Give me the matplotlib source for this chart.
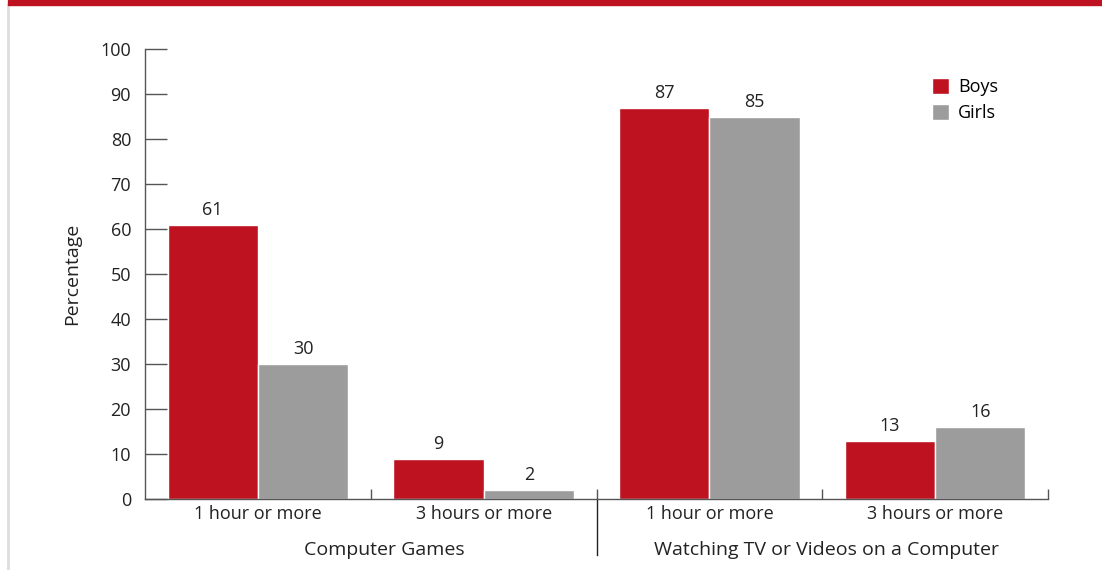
import matplotlib.pyplot as plt
from matplotlib.patches import Rectangle
from matplotlib.lines import Line2D
import numpy as np

plt.rcParams['font.family'] = ['Open Sans', 'DejaVu Sans']

categories = ['1 hour or more', '3 hours or more', '1 hour or more', '3 hours or more']
groups = ['Computer Games', 'Watching TV or Videos on a Computer']
boys = [61, 9, 87, 13]
girls = [30, 2, 85, 16]

red = '#BE1220'
grey = '#9C9C9C'
axis_col = '#555555'

fig = plt.figure(figsize=(11.02, 5.70), dpi=100)
ax = fig.add_axes([145 / 1102, 1 - 499 / 570, (1048 - 145) / 1102, 450 / 570])

x = np.arange(len(categories))
w = 0.4
b1 = ax.bar(x - w / 2, boys, w, color=red, edgecolor='white', linewidth=1, label='Boys')
b2 = ax.bar(x + w / 2, girls, w, color=grey, edgecolor='white', linewidth=1, label='Girls')
ax.bar_label(b1, padding=4, fontsize=13, color='#222222')
ax.bar_label(b2, padding=4, fontsize=13, color='#222222')

ax.set_xlim(-0.5, len(categories) - 0.5)
ax.set_ylim(0, 100)
ax.set_yticks(range(0, 101, 10))
ax.tick_params(axis='y', direction='in', length=16, width=1, color=axis_col,
               pad=10, labelsize=13, labelcolor='#222222')
ax.set_xticks(x)
ax.set_xticklabels(categories)
ax.tick_params(axis='x', which='major', length=0, pad=4, labelsize=13, labelcolor='#222222')
ax.set_xticks(np.arange(0.5, len(categories), 1), minor=True)
ax.tick_params(axis='x', which='minor', direction='in', length=7, width=1, color=axis_col)

for s in ['top', 'right']:
    ax.spines[s].set_visible(False)
for s in ['left', 'bottom']:
    ax.spines[s].set_color(axis_col)
    ax.spines[s].set_linewidth(1)

ax.set_ylabel('Percentage', fontsize=14, color='#222222', labelpad=14)

# group separator extending below axis
ax.add_line(Line2D([1.5, 1.5], [0, -0.125], transform=ax.get_xaxis_transform(),
                   color='#222222', linewidth=1, clip_on=False))

trans = ax.get_xaxis_transform()
ax.text(0.56, -0.113, groups[0], transform=trans, ha='center', va='center', fontsize=14, color='#222222')
ax.text(2.52, -0.113, groups[1], transform=trans, ha='center', va='center', fontsize=14, color='#222222')

ax.legend(loc='upper left', bbox_to_anchor=(932 / 1102, 1 - 78 / 570), bbox_transform=fig.transFigure,
          frameon=False, fontsize=13, handlelength=0.95, handleheight=0.95, handletextpad=0.5,
          labelspacing=0.45, borderpad=0, borderaxespad=0)

# decorative frame: red band on top, light rule on the left
fig.patches.append(Rectangle((8 / 1102, 1 - 5 / 570), 1, 5 / 570, transform=fig.transFigure,
                             color=red, zorder=5))
fig.add_artist(Line2D([8 / 1102, 8 / 1102], [0, 1 - 5 / 570], transform=fig.transFigure,
                      color='#DDDDDD', linewidth=2))

plt.savefig('out.png', dpi=100)
